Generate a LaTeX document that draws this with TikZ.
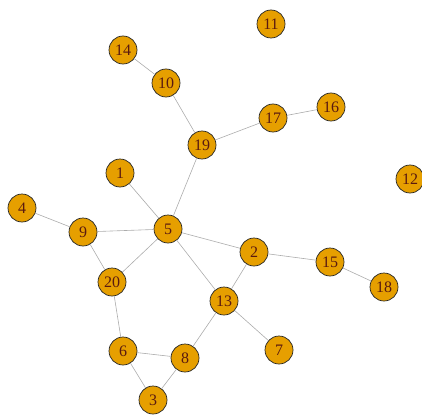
\documentclass[tikz,border=0pt]{standalone}
\usepackage{fontspec}
\setmainfont{Liberation Serif}
\usepackage{xcolor}
\usepackage{tikz}
\definecolor{vfill}{HTML}{E69F00}
\definecolor{vlabel}{HTML}{5A1A10}
\tikzset{
  vertex/.style={circle,draw=black!85,fill=vfill,line width=0.7pt,minimum size=28pt,inner sep=0pt,
    text=vlabel,font=\fontsize{16}{16}\selectfont},
  edge/.style={draw=gray!65,line width=0.6pt}
}

\begin{document}
\begin{tikzpicture}[x=1pt,y=-1pt]
  \useasboundingbox (0,0) rectangle (422,417);
  \foreach \i/\x/\y in {1/120/173,2/254/252,3/153/400,4/22/208,5/168/229,6/123/351,7/279/350,
                        8/185/358,9/83/232,10/166/83,11/271/24,12/410/179,13/224/301,14/123/50,
                        15/330/262,16/331/107,17/273/118,18/384/287,19/202/145,20/112/282}{
    \node[vertex] (n\i) at (\x,\y) {\i};
  }
  \foreach \a/\b in {14/10,10/19,19/17,17/16,19/5,1/5,4/9,9/5,9/20,20/5,5/2,5/13,
                     2/13,2/15,15/18,13/7,13/8,20/6,6/8,6/3,8/3}{
    \draw[edge] (n\a) -- (n\b);
  }
\end{tikzpicture}
\end{document}
